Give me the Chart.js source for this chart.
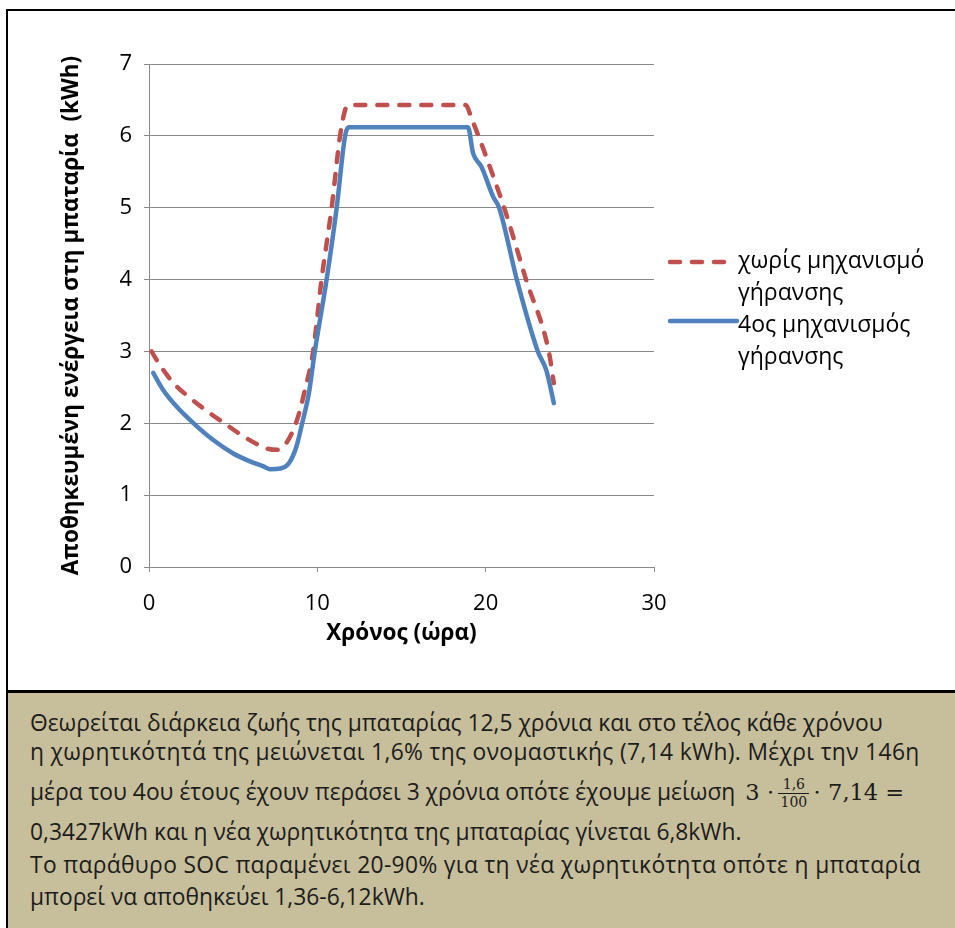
<!DOCTYPE html>
<html lang="el">
<head>
<meta charset="utf-8">
<title>Αποθηκευμένη ενέργεια στη μπαταρία</title>
<script src="https://cdn.jsdelivr.net/npm/chart.js@4.4.1/dist/chart.umd.min.js"></script>
<style>
  html, body { margin: 0; padding: 0; background: #fff; }
  body { width: 955px; height: 928px; position: relative; overflow: hidden;
         font-family: "Open Sans", "Noto Sans", sans-serif; color: #000; }
  #frame { position: absolute; left: 6px; top: 9px; width: 960px; height: 930px;
           border-left: 2px solid #000; border-top: 2px solid #000; }
  #chartBox { position: absolute; left: 0; top: 0; width: 947px; height: 679px; }
  #sep { position: absolute; left: 0; top: 679px; width: 960px; height: 3px; background: #000; }
  #note { position: absolute; left: 0; top: 682px; width: 960px; height: 260px;
          background: #c7be9b; color: #1c1c1c; font-size: 22.8px; }
  #note .ln { position: absolute; left: 22px; white-space: nowrap; line-height: 30px; }
  #note .l2, #note .l5 { letter-spacing: 0.35px; }
  .math { font-family: "DejaVu Serif", "Liberation Serif", serif; font-size: 22.5px; margin-left: 10px; }
  .frac { display: inline-block; vertical-align: middle; text-align: center; font-size: 14px;
          line-height: 17px; margin: 0 4px; }
  .frac span { display: block; padding: 0 2px; }
  .frac .num { border-bottom: 1px solid #1c1c1c; }
  #legend { position: absolute; left: 652px; top: 233px; font-size: 23px; line-height: 31.5px; }
  .item { position: relative; height: 64px; }
  .item svg { position: absolute; left: 0; }
  .item .txt { position: absolute; left: 78px; top: 0; white-space: nowrap; }
</style>
</head>
<body>
<div id="frame">
  <div id="chartBox"><canvas id="energyChart" width="947" height="679"></canvas></div>
  <div id="legend"></div>
  <div id="sep"></div>
  <div id="note">
    <div class="ln" style="top:15px">Θεωρείται διάρκεια ζωής της μπαταρίας 12,5 χρόνια και στο τέλος κάθε χρόνου</div>
    <div class="ln l2" style="top:44px">η χωρητικότητά της μειώνεται 1,6% της ονομαστικής (7,14 kWh). Μέχρι την 146η</div>
    <div class="ln" style="top:83px">μέρα του 4ου έτους έχουν περάσει 3 χρόνια οπότε έχουμε μείωση<span class="math">3 ⋅<span class="frac"><span class="num">1,6</span><span>100</span></span>⋅ 7,14 =</span></div>
    <div class="ln" style="top:124px">0,3427kWh και η νέα χωρητικότητα της μπαταρίας γίνεται 6,8kWh.</div>
    <div class="ln l5" style="top:157px">Το παράθυρο SOC παραμένει 20-90% για τη νέα χωρητικότητα οπότε η μπαταρία</div>
    <div class="ln" style="top:189px">μπορεί να αποθηκεύει 1,36-6,12kWh.</div>
  </div>
</div>
<script>
// stored energy (kWh) over the day, without ageing
const hoursNoAging  = [0.15, 0.65, 1.45, 2.45, 3.5, 4.6, 5.8, 7.0, 7.6, 8.2, 8.8, 9.25, 9.75, 10.25, 10.85, 11.35, 11.65, 11.85,
                       18.8, 19.2, 19.57, 20.46, 21.1, 22.4, 23.75, 24.05];
const energyNoAging = [3.0, 2.81, 2.56, 2.35, 2.16, 1.98, 1.79, 1.65, 1.63, 1.74, 2.05, 2.45, 3.0, 4.0, 5.0, 6.0, 6.36, 6.43,
                       6.43, 6.22, 6.0, 5.43, 5.0, 4.0, 3.0, 2.56];

// stored energy (kWh) with the 4th ageing step
const hoursAging4  = [0.25, 0.85, 1.65, 2.65, 3.8, 5.0, 6.0, 6.8, 7.2, 7.8, 8.3, 8.75, 9.1, 9.5, 9.85, 10.55, 11.15, 11.65, 11.85,
                      18.95, 19.25, 19.75, 20.45, 20.8, 21.85, 23.1, 23.6, 24.05];
const energyAging4 = [2.70, 2.46, 2.23, 2.0, 1.77, 1.58, 1.47, 1.40, 1.36, 1.37, 1.44, 1.67, 2.0, 2.42, 3.0, 4.0, 5.0, 6.0, 6.12,
                      6.12, 5.76, 5.57, 5.15, 5.0, 4.0, 3.0, 2.74, 2.28];

const xTicks = [0, 10, 20, 30];
const yTicks = [0, 1, 2, 3, 4, 5, 6, 7];
const seriesNames = [["χωρίς μηχανισμό", "γήρανσης"], ["4ος μηχανισμός", "γήρανσης"]];

function toPoints(xs, ys) {
  return xs.map(function (x, i) { return { x: x, y: ys[i] }; });
}

const gridGray = "#8a8a8a";
const tickFont = { family: "'Open Sans', 'Noto Sans', sans-serif", size: 22 };
const titleFont = { family: "'Open Sans', 'Noto Sans', sans-serif", size: 22.5, weight: "bold" };

const ctx = document.getElementById("energyChart").getContext("2d");
const energyChart = new Chart(ctx, {
  type: "line",
  data: {
    datasets: [
      {
        label: seriesNames[0].join(" "),
        data: toPoints(hoursNoAging, energyNoAging),
        borderColor: "#c0504d",
        borderWidth: 4.5,
        borderDash: [10, 12],
        borderCapStyle: "round",
        borderJoinStyle: "round",
        cubicInterpolationMode: "monotone",
        pointRadius: 0,
        fill: false,
        order: 1,
      },
      {
        label: seriesNames[1].join(" "),
        data: toPoints(hoursAging4, energyAging4),
        borderColor: "#4f81bd",
        borderWidth: 4.5,
        borderCapStyle: "round",
        borderJoinStyle: "round",
        cubicInterpolationMode: "monotone",
        pointRadius: 0,
        fill: false,
        order: 0,
      },
    ],
  },
  options: {
    responsive: false,
    animation: false,
    devicePixelRatio: 1,
    layout: { padding: { left: 48, top: 53, right: 301, bottom: 39 } },
    plugins: { legend: { display: false }, tooltip: { enabled: false } },
    scales: {
      x: {
        type: "linear",
        min: 0,
        max: 30,
        afterBuildTicks: function (s) { s.ticks = xTicks.map(function (v) { return { value: v }; }); },
        afterFit: function (s) { s.height = 84; },
        grid: { drawOnChartArea: false, drawTicks: true, tickLength: 5, color: gridGray },
        border: { color: gridGray, width: 1 },
        ticks: { color: "#000", font: tickFont, padding: 19, maxRotation: 0 },
        title: { display: true, text: "Χρόνος (ώρα)", color: "#000", font: titleFont, padding: { top: 0, bottom: 4 } },
      },
      y: {
        type: "linear",
        min: 0,
        max: 7,
        afterBuildTicks: function (s) { s.ticks = yTicks.map(function (v) { return { value: v }; }); },
        afterFit: function (s) { s.width = 93; },
        grid: { drawTicks: true, tickLength: 5, color: gridGray },
        border: { color: gridGray, width: 1 },
        ticks: { color: "#000", font: tickFont, padding: 12 },
        title: { display: true, text: "Αποθηκευμένη ενέργεια στη μπαταρία  (kWh)", color: "#000", font: titleFont, padding: { top: 2, bottom: 0 } },
      },
    },
  },
});

// legend built from the datasets
const legend = document.getElementById("legend");
energyChart.data.datasets.forEach(function (ds, i) {
  const item = document.createElement("div");
  item.className = "item";
  const dash = ds.borderDash ? ' stroke-dasharray="' + ds.borderDash.join(" ") + '"' : "";
  const len = ds.borderDash ? 70 : 77;
  item.innerHTML =
    '<svg width="84" height="32" style="top:' + (i === 0 ? 2 : -3) + 'px">' +
    '<line x1="10" y1="16" x2="' + len + '" y2="16" stroke="' + ds.borderColor + '" stroke-width="' + ds.borderWidth +
    '" stroke-linecap="round"' + dash + "/></svg>" +
    '<div class="txt">' + seriesNames[i].join("<br>") + "</div>";
  legend.appendChild(item);
});
</script>
</body>
</html>
